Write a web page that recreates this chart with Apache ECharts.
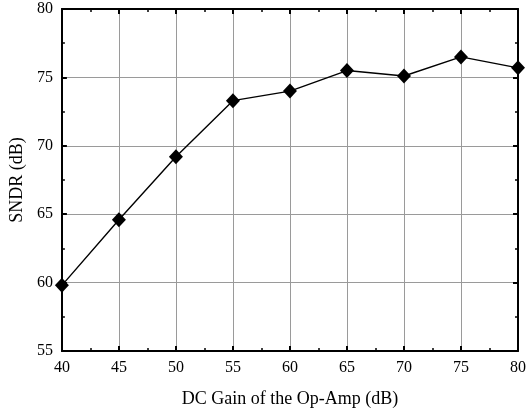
<!DOCTYPE html>
<html>
<head>
<meta charset="utf-8">
<script src="https://cdn.jsdelivr.net/npm/echarts@6/dist/echarts.min.js"></script>
<style>
    html, body { margin: 0; padding: 0; background: #fff; }
    #chart { width: 529px; height: 415px; }
</style>
</head>
<body>
<div id="chart"></div>
<script>
// 数据
var gainDb = [40, 45, 50, 55, 60, 65, 70, 75, 80];
var sndrDb = [59.8, 64.6, 69.2, 73.3, 74.0, 75.5, 75.1, 76.5, 75.7];

(function () {
    var myChart = echarts.init(document.getElementById("chart"));
    var font = "Liberation Serif";
    var points = [];
    for (var i = 0; i < gainDb.length; i++) {
        points.push([gainDb[i], sndrDb[i]]);
    }
    // 主轴和镜像轴共用的样式
    function axisBase(pos, showLabel) {
        return {
            type: "value",
            position: pos,
            axisLine: { show: true, onZero: false, lineStyle: { color: "#000", width: 2 } },
            axisTick: { show: true, inside: true, length: 5, lineStyle: { color: "#000", width: 2 } },
            minorTick: { show: true, splitNumber: 2, length: 3, lineStyle: { color: "#000", width: 1.5 } },
            axisLabel: { show: showLabel, color: "#000", fontFamily: font, fontSize: 16 },
            splitLine: { show: false }
        };
    }
    var xBottom = axisBase("bottom", true);
    xBottom.min = 40; xBottom.max = 80; xBottom.interval = 5;
    xBottom.name = "DC Gain of the Op-Amp (dB)";
    xBottom.nameLocation = "middle";
    xBottom.nameGap = 39;
    xBottom.nameTextStyle = { color: "#000", fontFamily: font, fontSize: 18 };
    xBottom.axisLabel.margin = 9;
    xBottom.splitLine = { show: true, lineStyle: { color: "#9a9a9a", width: 1 } };
    var xTop = axisBase("top", false);
    xTop.min = 40; xTop.max = 80; xTop.interval = 5;

    var yLeft = axisBase("left", true);
    yLeft.min = 55; yLeft.max = 80; yLeft.interval = 5;
    yLeft.name = "SNDR (dB)";
    yLeft.nameLocation = "middle";
    yLeft.nameGap = 33;
    yLeft.nameTextStyle = { color: "#000", fontFamily: font, fontSize: 18 };
    yLeft.axisLabel.margin = 9;
    yLeft.splitLine = { show: true, lineStyle: { color: "#9a9a9a", width: 1 } };
    var yRight = axisBase("right", false);
    yRight.min = 55; yRight.max = 80; yRight.interval = 5;

    var option = {
        animation: false,
        grid: { left: 59, right: 7, top: 9, bottom: 64, containLabel: false },
        xAxis: [xBottom, xTop],
        yAxis: [yLeft, yRight],
        series: [
            {
                type: "line",
                data: points,
                symbol: "diamond",
                symbolSize: [14, 15],
                lineStyle: { color: "#000", width: 1.4 },
                itemStyle: { color: "#000" },
                clip: false
            }
        ]
    };
    myChart.setOption(option);
})();
</script>
</body>
</html>
